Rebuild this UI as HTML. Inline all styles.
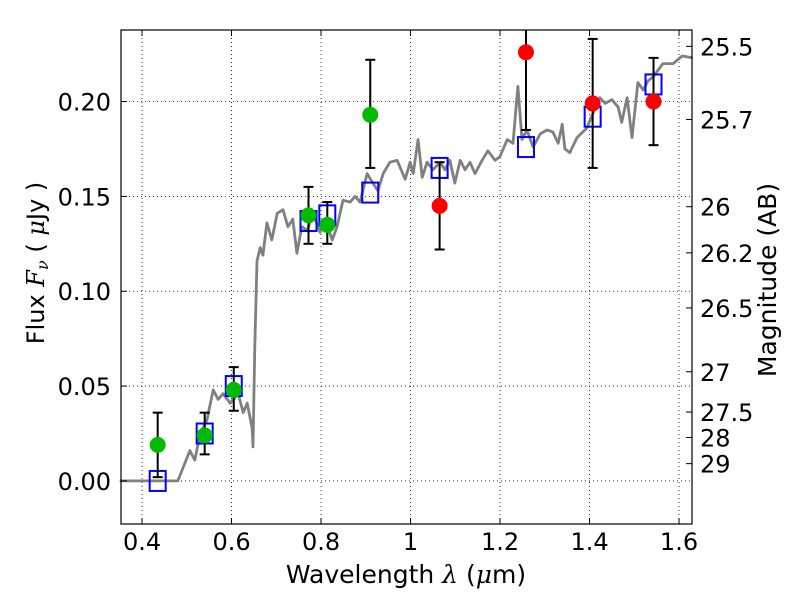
<!DOCTYPE html>
<html><head><meta charset="utf-8"><style>
body{margin:0;background:#fff;}
svg{font-family:"DejaVu Sans","Liberation Sans",sans-serif;}
</style></head><body>
<svg id="chart" width="800" height="600" viewBox="0 0 800 600" xmlns="http://www.w3.org/2000/svg">
<rect width="800" height="600" fill="#fff"/>
<g id="grid"></g>
<g id="spec"></g>
<g id="marks"></g>
<rect x="121" y="30" width="571" height="494" fill="none" stroke="#000" stroke-width="1.2"/>
<g id="axes"></g>
<text x="406" y="583" font-size="25" text-anchor="middle">Wavelength  <tspan font-style="italic" font-family="DejaVu Serif,serif">λ</tspan> (<tspan font-style="italic" font-family="DejaVu Serif,serif">μ</tspan>m)</text>
<text transform="translate(44,263) rotate(-90)" font-size="24" text-anchor="middle">Flux  <tspan font-style="italic" font-family="DejaVu Serif,serif">F</tspan><tspan font-style="italic" font-family="DejaVu Serif,serif" font-size="16" dy="4">ν</tspan><tspan dy="-4">  ( </tspan><tspan font-style="italic" font-family="DejaVu Serif,serif">μ</tspan>Jy )</text>
<text transform="translate(776,280) rotate(-90)" font-size="25" text-anchor="middle">Magnitude (AB)</text>
</svg>
<script>
const xTicks=[0.4,0.6,0.8,1.0,1.2,1.4,1.6];
const xTickLabels=["0.4","0.6","0.8","1","1.2","1.4","1.6"];
const yTicks=[0,0.05,0.1,0.15,0.2];
const yTickLabels=["0.00","0.05","0.10","0.15","0.20"];
const magTicks=[25.5,25.7,26,26.2,26.5,27,27.5,28,29];
const magLabels=["25.5","25.7","26","26.2","26.5","27","27.5","28","29"];
const greenLam=[0.435,0.54,0.605,0.772,0.814,0.91];
const greenFlux=[0.019,0.024,0.048,0.140,0.135,0.193];
const greenLo=[0.002,0.014,0.037,0.125,0.125,0.165];
const greenHi=[0.036,0.036,0.060,0.155,0.147,0.222];
const redLam=[1.065,1.258,1.407,1.543];
const redFlux=[0.145,0.226,0.199,0.200];
const redLo=[0.122,0.185,0.165,0.177];
const redHi=[0.168,0.27,0.233,0.223];
const modelLam=[0.435,0.54,0.605,0.772,0.814,0.91,1.065,1.258,1.407,1.543];
const modelFlux=[0.000,0.025,0.050,0.137,0.140,0.152,0.165,0.176,0.192,0.209];
const specLam=[0.35,0.48,0.507,0.518,0.53,0.545,0.559,0.570,0.581,0.597,0.615,0.626,0.635,0.646,0.648,0.652,0.657,0.664,0.670,0.679,0.690,0.702,0.715,0.726,0.737,0.746,0.757,0.769,0.782,0.798,0.809,0.825,0.836,0.849,0.865,0.876,0.887,0.903,0.916,0.927,0.939,0.954,0.970,0.988,0.999,1.006,1.017,1.026,1.037,1.050,1.066,1.077,1.088,1.099,1.111,1.122,1.133,1.144,1.160,1.173,1.189,1.200,1.216,1.229,1.240,1.249,1.260,1.274,1.290,1.305,1.318,1.330,1.339,1.345,1.356,1.372,1.394,1.408,1.423,1.435,1.450,1.464,1.472,1.484,1.495,1.508,1.520,1.531,1.542,1.564,1.587,1.607,1.631];
const specFlux=[0,0,0.016,0.011,0.025,0.032,0.048,0.043,0.046,0.041,0.046,0.036,0.041,0.028,0.018,0.071,0.116,0.123,0.119,0.136,0.127,0.141,0.143,0.134,0.138,0.120,0.134,0.132,0.141,0.131,0.138,0.127,0.134,0.148,0.147,0.150,0.147,0.162,0.157,0.153,0.162,0.168,0.169,0.159,0.168,0.162,0.180,0.160,0.168,0.164,0.168,0.164,0.169,0.157,0.169,0.164,0.168,0.162,0.169,0.174,0.169,0.171,0.180,0.178,0.208,0.180,0.185,0.176,0.183,0.185,0.184,0.178,0.188,0.175,0.173,0.181,0.186,0.194,0.202,0.199,0.201,0.197,0.189,0.202,0.181,0.210,0.206,0.211,0.213,0.220,0.220,0.224,0.223];

const NS="http://www.w3.org/2000/svg";
const X0=121,X1=692,Y0=30,Y1=524;
const xMin=0.353,xMax=1.629,yMin=-0.0227,yMax=0.2377;
const sx=v=>X0+(v-xMin)/(xMax-xMin)*(X1-X0);
const sy=v=>Y1-(v-yMin)/(yMax-yMin)*(Y1-Y0);
const magToFlux=m=>Math.pow(10,(23.9-m)/2.5);
function mk(tag,attrs,parent){const e=document.createElementNS(NS,tag);for(const k in attrs)e.setAttribute(k,attrs[k]);parent.appendChild(e);return e;}
const grid=document.getElementById('grid'),axes=document.getElementById('axes'),marks=document.getElementById('marks'),spec=document.getElementById('spec');
xTicks.forEach((t,i)=>{const x=sx(t);
 const g=mk('line',{x1:x,x2:x,y1:Y0,y2:Y1,stroke:'#000','stroke-width':0.8,'stroke-dasharray':'1,3'},grid);
 
 mk('line',{x1:x,x2:x,y1:Y1,y2:Y1-6,stroke:'#000'},axes);mk('line',{x1:x,x2:x,y1:Y0,y2:Y0+6,stroke:'#000'},axes);
 const l=mk('text',{x:x,y:550,'font-size':24,'text-anchor':'middle'},axes);l.textContent=xTickLabels[i];
 });
yTicks.forEach((t,i)=>{const y=sy(t);
 const g=mk('line',{x1:X0,x2:X1,y1:y,y2:y,stroke:'#000','stroke-width':0.8,'stroke-dasharray':'1,3'},grid);
 
 mk('line',{x1:X0,x2:X0+6,y1:y,y2:y,stroke:'#000'},axes);
 const l=mk('text',{x:X0-10,y:y+9,'font-size':24,'text-anchor':'end'},axes);l.textContent=yTickLabels[i];
 });
magTicks.forEach((m,i)=>{const y=sy(magToFlux(m));
 mk('line',{x1:X1-6,x2:X1,y1:y,y2:y,stroke:'#000'},axes);
 const l=mk('text',{x:X1+8,y:y+9,'font-size':24},axes);l.textContent=magLabels[i];
 });
let d='';specLam.forEach((v,i)=>{d+=(i?'L':'M')+sx(v).toFixed(1)+','+sy(specFlux[i]).toFixed(1);});
const p=mk('path',{d:d,fill:'none',stroke:'#808080','stroke-width':2.8,'stroke-linejoin':'round'},spec);

mk('clipPath',{id:'cp'},document.getElementById('chart'));
mk('rect',{x:X0,y:Y0,width:X1-X0,height:Y1-Y0},document.getElementById('cp'));
marks.setAttribute('clip-path','url(#cp)');
modelLam.forEach((v,i)=>{const x=sx(v),y=sy(modelFlux[i]);
 const r=mk('rect',{x:x-8,y:y-10,width:16,height:20,fill:'none',stroke:'#0000ff','stroke-width':2},marks);
 });
function pts(lam,fl,lo,hi,col,name){lam.forEach((v,i)=>{const x=sx(v);
 const e=mk('g',{},marks);
 mk('line',{x1:x,x2:x,y1:sy(lo[i]),y2:sy(hi[i]),stroke:'#000','stroke-width':2},e);
 mk('line',{x1:x-5,x2:x+5,y1:sy(lo[i]),y2:sy(lo[i]),stroke:'#000','stroke-width':2},e);
 mk('line',{x1:x-5,x2:x+5,y1:sy(hi[i]),y2:sy(hi[i]),stroke:'#000','stroke-width':2},e);
 const c=mk('circle',{cx:x,cy:sy(fl[i]),r:8,fill:col},marks);
 });}
pts(greenLam,greenFlux,greenLo,greenHi,'#00bb00','green');
pts(redLam,redFlux,redLo,redHi,'#ff0000','red');
</script>
</body></html>
